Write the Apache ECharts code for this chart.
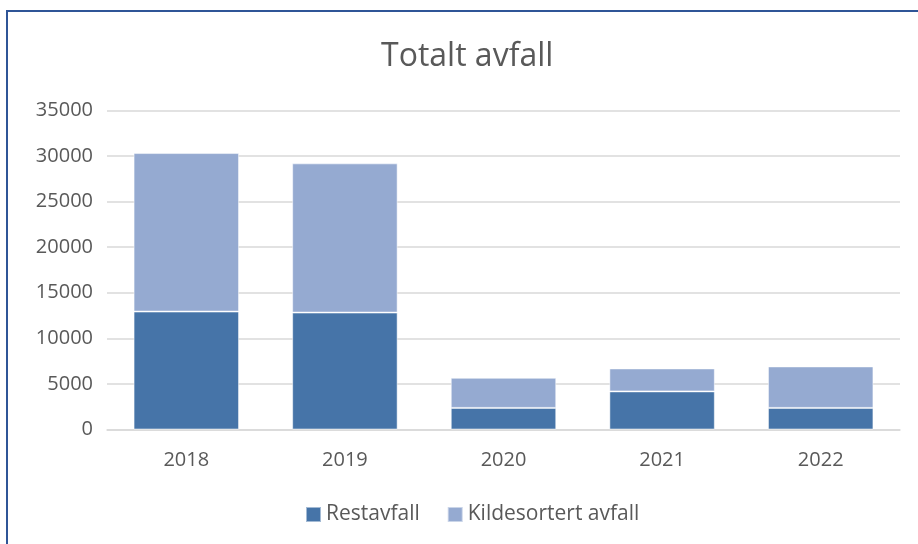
<!DOCTYPE html>
<html><head><meta charset="utf-8">
<script src="https://cdn.jsdelivr.net/npm/echarts@6/dist/echarts.min.js"></script>
<style>html,body{margin:0;padding:0;background:#fff}#c{width:918px;height:544px}
#frame{position:absolute;left:6px;top:10px;width:930px;height:560px;border:2px solid #2f5597;box-sizing:border-box;pointer-events:none}</style>
</head><body><div id="c"></div><div id="frame"></div>
<script>
const categories = ['2018','2019','2020','2021','2022'];
const restavfall = [12940, 12830, 2370, 4180, 2370];
const kildesortert = [17390, 16370, 3300, 2520, 4550];
const yTicks = [0, 5000, 10000, 15000, 20000, 25000, 30000, 35000];
const font = '"Open Sans", "Noto Sans", sans-serif';
const chart = echarts.init(document.getElementById('c'));
chart.setOption({
  animation: false,
  title: {text: 'Totalt avfall', left: 376, top: 36, textStyle: {fontFamily: font, fontSize: 32, fontWeight: 'normal', color: '#595959'}},
  grid: {left: 107, right: 18, top: 110.5, bottom: 114.5},
  legend: {left: 300, bottom: 14, itemWidth: 15, itemHeight: 15, itemGap: 27, icon: 'rect',
    textStyle: {fontFamily: font, fontSize: 21, color: '#595959'}},
  xAxis: {type: 'category', data: categories,
    axisLine: {lineStyle: {color: '#d9d9d9', width: 1.5}}, axisTick: {show: false},
    axisLabel: {fontFamily: font, fontSize: 20, color: '#595959', margin: 21}},
  yAxis: {type: 'value', min: yTicks[0], max: yTicks[yTicks.length-1], interval: 5000,
    axisLine: {show: false}, axisTick: {show: false},
    splitLine: {lineStyle: {color: '#d9d9d9', width: 1.5}},
    axisLabel: {fontFamily: font, fontSize: 20, color: '#595959', margin: 14, formatter: v => String(v)}},
  series: [
    {name: 'Restavfall', type: 'bar', stack: 't', data: restavfall, barCategoryGap: '33.5%',
     itemStyle: {color: '#4674a8', borderColor: 'rgba(255,255,255,0.5)', borderWidth: 1}},
    {name: 'Kildesortert avfall', type: 'bar', stack: 't', data: kildesortert,
     itemStyle: {color: '#95aad1', borderColor: 'rgba(255,255,255,0.5)', borderWidth: 1}}
  ]
});
</script></body></html>
